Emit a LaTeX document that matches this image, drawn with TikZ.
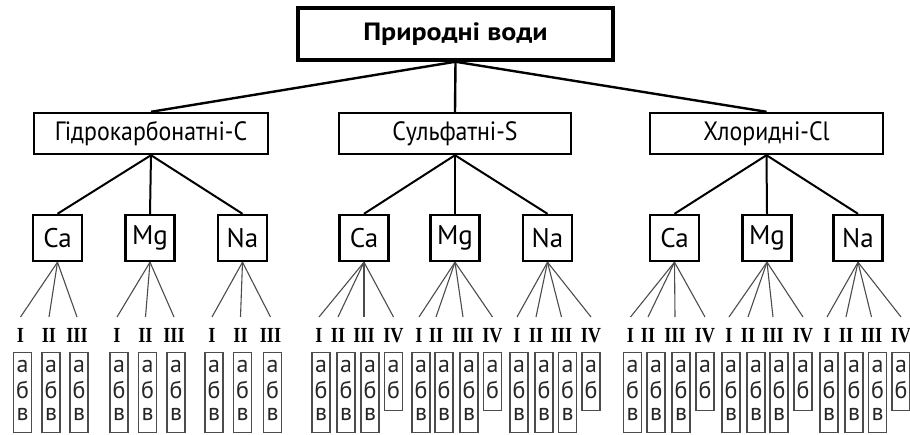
\documentclass[tikz,border=0pt]{standalone}
\usepackage{fontspec}
\setmainfont{PT Sans}
\newfontfamily\labfont[FakeStretch=0.9]{PT Sans}
\newfontfamily\ttlfont[FakeStretch=1.12]{PT Sans Bold}
\newfontfamily\numfont[FakeStretch=0.85]{Liberation Serif Bold}
\begin{document}
\begin{tikzpicture}[x=1pt,y=-1pt,
  titlebox/.style={draw, line width=3.5pt, minimum width=315pt, minimum height=52pt, inner sep=0pt, font=\ttlfont\fontsize{25}{28}\selectfont},
  lvtwo/.style={draw, line width=2.4pt, minimum height=41pt, inner sep=0pt, font=\labfont\fontsize{26.5}{29}\selectfont},
  ionbox/.style={draw, line width=2.4pt, minimum width=49pt, minimum height=46pt, inner sep=0pt, font=\fontsize{27}{30}\selectfont},
  subbox/.style={draw=black!70, line width=1.4pt, minimum width=18pt, inner sep=0pt, anchor=north},
  numtext/.style={font=\numfont\fontsize{21.5}{24}\selectfont, inner sep=0pt, anchor=base},
  lett/.style={font=\fontsize{24}{26}\selectfont, inner sep=0pt, anchor=base, text=black!85},
  mainline/.style={line width=2.4pt},
  midline/.style={line width=2pt},
  thinline/.style={line width=1.1pt, draw=black!70}]
\useasboundingbox (0,0) rectangle (910,435);
\node[titlebox] (top) at (455.5,34) {Природні води};
\node[lvtwo, minimum width=234pt] (hc) at (151,133.5) {Гідрокарбонатні-С};
\node[lvtwo, minimum width=232pt] (sf) at (455,133.5) {Сульфатні-S};
\node[lvtwo, minimum width=233pt] (cl) at (766.5,133.5) {Хлоридні-Cl};
\draw[mainline] (top.south) -- (hc.north);
\draw[mainline] (top.south) -- (sf.north);
\draw[mainline] (top.south) -- (cl.north);
\foreach \nm/\cx/\pn/\txt in {a1/57.5/hc/Ca, a2/150/hc/Mg, a3/242.5/hc/Na, b1/364/sf/Ca, b2/455/sf/Mg, b3/547.5/sf/Na, c1/674.5/cl/Ca, c2/767/cl/Mg, c3/858/cl/Na}{
  \node[ionbox] (\nm) at (\cx,238) {\txt};
  \draw[midline] (\pn.south) -- (\nm.north);
}
\foreach \nm/\xs/\nn in {a1/{22.5,51,79}/3, a2/{119,147.5,176}/3, a3/{214,242.5,272.5}/3, b1/{321,346,370,393.5}/4, b2/{421,444,469,492.5}/4, b3/{519,544,567.5,591}/4, c1/{632.5,656,681,705}/4, c2/{731,756,779,803}/4, c3/{829,854,877.5,901}/4}{
  \foreach \sx [count=\k] in \xs {
    \ifnum\nn=3
      \pgfmathsetmacro\nx{\sx-2}
    \else
      \pgfmathsetmacro\nx{\sx+(\k==1)*(-2)+(\k==2)*(-8)+(\k==3)*(-6)}
    \fi
    \node[numtext] (n-\nm-\k) at (\nx,343) {\ifcase\k\or I\or II\or III\or IV\fi};
    \coordinate (e-\nm-\k) at (\nx,317);
    \draw[thinline] (\nm.south) -- (e-\nm-\k);
    \ifnum\k=4 \def\bh{58pt}\else\def\bh{80pt}\fi
    \node[subbox, minimum height=\bh] (s-\nm-\k) at (\sx,352) {};
    \node[lett] (la-\nm-\k) at (\sx,373) {а};
    \node[lett] (lb-\nm-\k) at (\sx,398) {б};
    \ifnum\k<4 \node[lett] (lc-\nm-\k) at (\sx,420) {в};\fi
  }
}
\end{tikzpicture}
\end{document}
